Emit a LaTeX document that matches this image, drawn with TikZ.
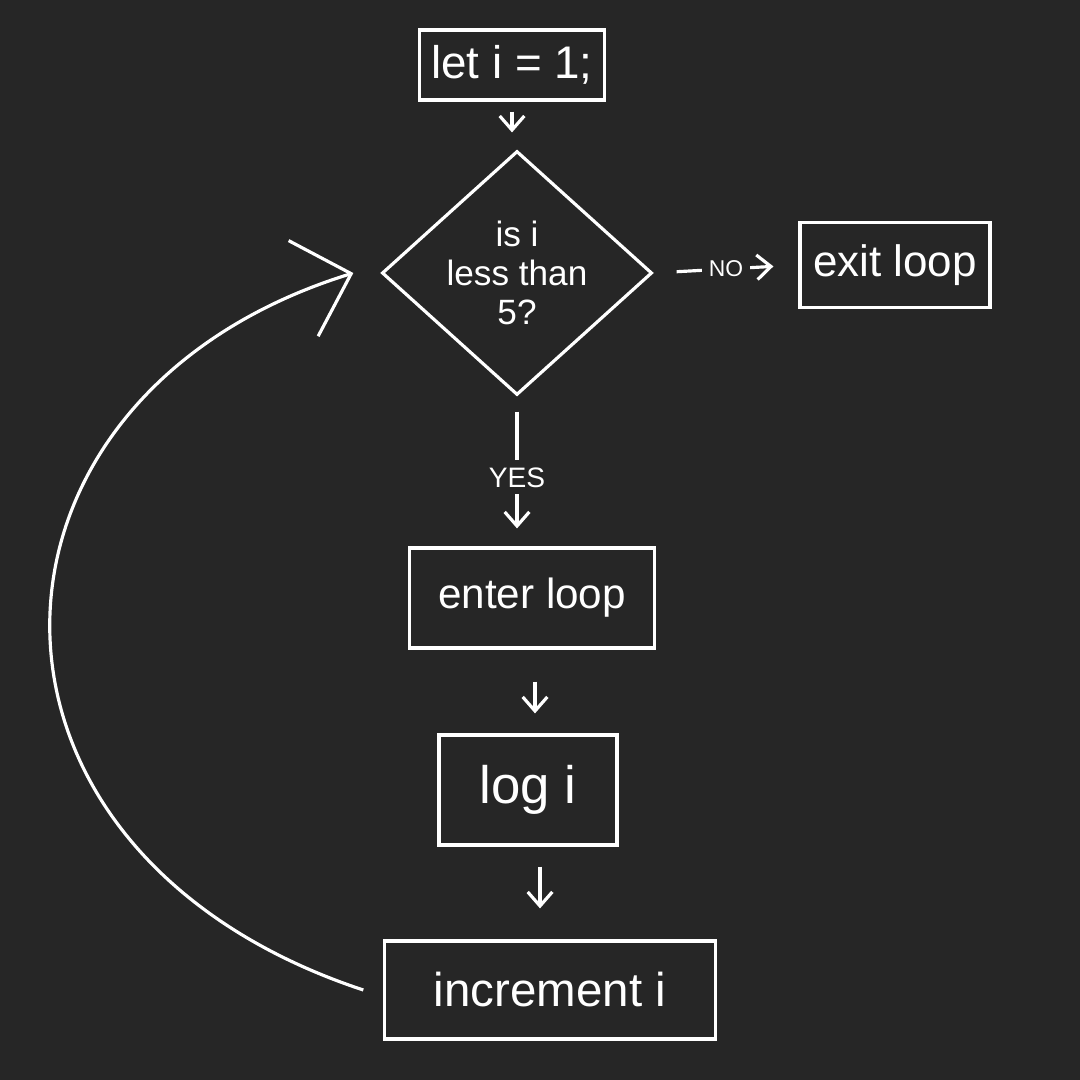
\documentclass[tikz,border=0pt]{standalone}
\usepackage{fontspec}
\setmainfont{Liberation Sans}
\usetikzlibrary{shapes.geometric,arrows.meta}
\definecolor{bg}{HTML}{262626}
\tikzset{
  stepbox/.style={draw=white, line width=0.9pt, text=white, inner sep=0pt},
  decision/.style={diamond, draw=white, line width=0.9pt, text=white, inner sep=0pt, align=center},
  flow/.style={draw=white, line width=0.9pt, -{Straight Barb[length=4pt,width=7pt]}},
  lbl/.style={fill=bg, text=white, inner sep=2pt},
  looparrow/.style={draw=white, line width=0.9pt, -{Straight Barb[length=0.5cm,width=1.0cm,line width=0.9pt]}}
}
\begin{document}
\begin{tikzpicture}[x=0.01cm,y=-0.01cm]
\fill[bg] (0,0) rectangle (1080,1080);
\useasboundingbox (0,0) rectangle (1080,1080);

\node[stepbox, minimum width=1.85cm, minimum height=0.70cm, font=\fontsize{13}{15}\selectfont] (let) at (512,65) {let i = 1;};
\node[decision, minimum width=2.70cm, minimum height=2.32cm, font=\fontsize{10}{11}\selectfont] (dia) at (517,273) {is i\\less than\\5?};
\node[stepbox, minimum width=1.90cm, minimum height=0.85cm, font=\fontsize{12.5}{15}\selectfont] (exit) at (895,265) {exit loop};
\node[stepbox, minimum width=2.45cm, minimum height=1.00cm, font=\fontsize{12}{15}\selectfont] (enter) at (532,598) {enter loop};
\node[stepbox, minimum width=1.78cm, minimum height=1.10cm, font=\fontsize{15}{18}\selectfont] (log) at (528,790) {log i};
\node[stepbox, minimum width=3.30cm, minimum height=0.98cm, font=\fontsize{13.5}{16}\selectfont] (inc) at (550,990) {increment i};

\draw[flow, shorten <=0.1cm, shorten >=0.17cm] (let.south) -- (let.south |- dia.north);
\draw[flow, shorten <=0.23cm, shorten >=0.25cm] (dia.east) -- (exit.west)
  node[lbl, midway, font=\fontsize{6.5}{8}\selectfont] {NO};
\draw[flow, shorten <=0.15cm, shorten >=0.18cm] (dia.south) -- (dia.south |- enter.north)
  node[lbl, pos=0.54, font=\fontsize{8}{10}\selectfont] {YES};
\draw[flow, shorten <=0.32cm, shorten >=0.2cm] ([xshift=0.03cm]enter.south) -- ([xshift=0.03cm]enter.south |- log.north);
\draw[flow, shorten <=0.2cm, shorten >=0.31cm] ([xshift=0.12cm]log.south) -- ([xshift=0.12cm]log.south |- inc.north);
\draw[looparrow] ([xshift=-0.2cm]inc.west) .. controls (-60,850) and (-45,396) .. ([xshift=-0.27cm]dia.west);
\end{tikzpicture}
\end{document}
